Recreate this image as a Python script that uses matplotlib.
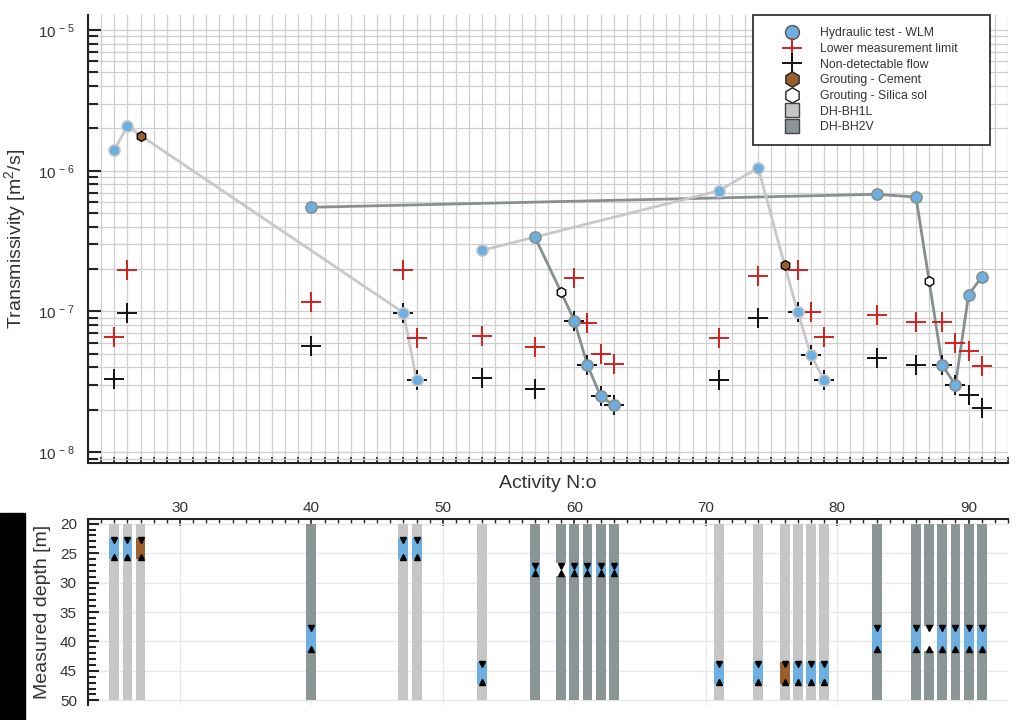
# -*- coding: utf-8 -*-
"""
Transmissivity per activity with the tested borehole sections below.
Writes out.png (1024x720).
"""

import math
import matplotlib
matplotlib.use("Agg")
import matplotlib.pyplot as plt
from matplotlib.lines import Line2D
from matplotlib.patches import Rectangle
from matplotlib.ticker import MultipleLocator, LogLocator, FixedLocator, NullFormatter, FuncFormatter

plt.rcParams["font.family"] = ["Liberation Sans", "DejaVu Sans"]
plt.rcParams["mathtext.fontset"] = "custom"
plt.rcParams["mathtext.rm"] = "Liberation Sans"
plt.rcParams["mathtext.it"] = "Liberation Sans"

# activities (x) and which borehole / what kind of activity
activity = [25, 26, 27, 40, 47, 48, 53, 57, 59, 60, 61, 62, 63,
            71, 74, 76, 77, 78, 79, 83, 86, 87, 88, 89, 90, 91]
borehole = ["BH1L", "BH1L", "BH1L", "BH2V", "BH1L", "BH1L", "BH1L",
            "BH2V", "BH2V", "BH2V", "BH2V", "BH2V", "BH2V",
            "BH1L", "BH1L", "BH1L", "BH1L", "BH1L", "BH1L",
            "BH2V", "BH2V", "BH2V", "BH2V", "BH2V", "BH2V", "BH2V"]
kind = ["test", "test", "cement", "test", "test", "test", "test",
        "test", "silica", "test", "test", "test", "test",
        "test", "test", "cement", "test", "test", "test",
        "test", "test", "silica", "test", "test", "test", "test"]

# section (measured depth, m)
sec_top = [22.4, 22.4, 22.4, 37.4, 22.4, 22.4, 43.5, 26.7, 26.7, 26.7, 26.7, 26.7, 26.7,
           43.5, 43.5, 43.5, 43.5, 43.5, 43.5, 37.4, 37.4, 37.4, 37.4, 37.4, 37.4, 37.4]
sec_bot = [26.0, 26.0, 26.0, 41.7, 26.0, 26.0, 47.3, 28.8, 28.8, 28.8, 28.8, 28.8, 28.8,
           47.3, 47.3, 47.3, 47.3, 47.3, 47.3, 41.7, 41.7, 41.7, 41.7, 41.7, 41.7, 41.7]

# transmissivity (m2/s); grouting markers sit on the line
trans = [1.40e-6, 2.08e-6, 1.78e-6, 5.5e-7, 9.8e-8, 3.25e-8, 2.72e-7,
         3.38e-7, 1.37e-7, 8.6e-8, 4.15e-8, 2.5e-8, 2.15e-8,
         7.2e-7, 1.05e-6, 2.14e-7, 9.9e-8, 4.9e-8, 3.25e-8,
         6.8e-7, 6.5e-7, 1.64e-7, 4.15e-8, 3.0e-8, 1.31e-7, 1.76e-7]
lower_limit = [6.6e-8, 1.97e-7, None, 1.17e-7, 1.97e-7, 6.45e-8, 6.7e-8,
               5.6e-8, None, 1.74e-7, 8.3e-8, 5.0e-8, 4.2e-8,
               6.45e-8, 1.79e-7, None, 1.97e-7, 9.9e-8, 6.55e-8,
               9.5e-8, 8.4e-8, None, 8.4e-8, 6.0e-8, 5.2e-8, 4.1e-8]
non_detect = [3.3e-8, 9.8e-8, None, 5.7e-8, 9.8e-8, 3.25e-8, 3.35e-8,
              2.8e-8, None, 8.6e-8, 4.15e-8, 2.5e-8, 2.15e-8,
              3.25e-8, 9.0e-8, None, 9.9e-8, 4.9e-8, 3.25e-8,
              4.7e-8, 4.15e-8, None, 4.15e-8, 3.0e-8, 2.55e-8, 2.05e-8]

BH_COLOR = {"BH1L": "#c6c6c6", "BH2V": "#8b9595"}
LINE_COLOR = {"BH1L": "#c8c8c8", "BH2V": "#86908f"}
KIND_COLOR = {"test": "#6cafe0", "cement": "#9b5f2b", "silica": "#ffffff"}
TEXT = "#333333"


def sections():
    # group activities that share borehole + section, in activity order
    groups = {}
    for i in range(len(activity)):
        key = (borehole[i], sec_top[i])
        groups.setdefault(key, []).append(i)
    return groups


def decade_label(v, pos):
    return r"$\mathregular{10^{\,-\,%d}}$" % round(-math.log10(v))


def plot_top(ax):
    for (bh, _), idx in sections().items():
        ax.plot([activity[i] for i in idx], [trans[i] for i in idx],
                color=LINE_COLOR[bh], lw=2, zorder=2)

    for i, x in enumerate(activity):
        if lower_limit[i] is not None:
            ax.plot(x, lower_limit[i], "+", color="#d42020", ms=14, mew=1.4, zorder=3)
        if non_detect[i] is not None:
            ax.plot(x, non_detect[i], "+", color="#111111", ms=14, mew=1.4, zorder=3)
        if kind[i] == "test":
            ax.plot(x, trans[i], "o", color=KIND_COLOR["test"], ms=8,
                    mec=LINE_COLOR[borehole[i]], mew=1.2, zorder=4)
        else:
            ax.plot(x, trans[i], "h", color=KIND_COLOR[kind[i]], ms=7,
                    mec="black", mew=1.0, zorder=5)

    ax.set_yscale("log")
    ax.set_xlim(23, 93)
    ax.set_ylim(10 ** -8.074, 10 ** -4.893)
    ax.xaxis.set_major_locator(MultipleLocator(1))
    ax.xaxis.set_major_formatter(NullFormatter())
    ax.yaxis.set_major_locator(LogLocator(base=10))
    ax.yaxis.set_minor_locator(LogLocator(base=10, subs=range(2, 10)))
    ax.yaxis.set_minor_formatter(NullFormatter())
    ax.yaxis.set_major_formatter(FuncFormatter(decade_label))
    ax.tick_params(axis="x", direction="in", length=4, width=1.2, color="#222222")
    ax.tick_params(axis="y", which="major", direction="in", length=9.5, width=1.5,
                   pad=9, labelsize=11, labelcolor=TEXT, color="#222222")
    ax.tick_params(axis="y", which="minor", direction="in", length=7, width=1.5,
                   color="#222222")
    ax.grid(True, which="both", axis="y", color="#cfcfcf", lw=0.9, zorder=0)
    ax.grid(True, which="major", axis="x", color="#cfcfcf", lw=0.9, zorder=0)
    ax.set_axisbelow(True)
    for s in ["top", "right"]:
        ax.spines[s].set_visible(False)
    for s in ["left", "bottom"]:
        ax.spines[s].set_linewidth(1.5)
        ax.spines[s].set_color("#222222")
    ax.set_ylabel("Transmissivity [m$^2$/s]", fontsize=14, color=TEXT)
    ax.yaxis.set_label_coords((28 - 88) / 920, 0.5)

    handles = [
        Line2D([], [], ls="none", marker="o", ms=10, color=KIND_COLOR["test"], mec="#555555"),
        Line2D([], [], ls="none", marker="+", ms=14, mew=1.4, color="#d42020"),
        Line2D([], [], ls="none", marker="+", ms=14, mew=1.4, color="#111111"),
        Line2D([], [], ls="none", marker="h", ms=11, color=KIND_COLOR["cement"], mec="#222222"),
        Line2D([], [], ls="none", marker="h", ms=11, color="white", mec="#222222"),
        Line2D([], [], ls="none", marker="s", ms=9.5, color=BH_COLOR["BH1L"], mec="#444444"),
        Line2D([], [], ls="none", marker="s", ms=9.5, color=BH_COLOR["BH2V"], mec="#444444"),
    ]
    labels = ["Hydraulic test - WLM", "Lower measurement limit", "Non-detectable flow",
              "Grouting - Cement", "Grouting - Silica sol", "DH-BH1L", "DH-BH2V"]
    fig = ax.figure
    leg = ax.legend(handles, labels, loc="upper left",
                    bbox_to_anchor=(753 / 1024, 1 - 145 / 720, 237 / 1024, 130 / 720),
                    bbox_transform=fig.transFigure, mode="expand", borderaxespad=0,
                    fontsize=8.8, frameon=True, fancybox=False, framealpha=1,
                    edgecolor="#222222", labelspacing=0.3, handlelength=4.4,
                    handletextpad=0.1, borderpad=1.0)
    leg.get_frame().set_linewidth(1.2)
    for t in leg.get_texts():
        t.set_color(TEXT)


def plot_bottom(ax):
    for i, x in enumerate(activity):
        ax.bar(x, 30, bottom=20, width=0.75, color=BH_COLOR[borehole[i]], zorder=2)
        ax.bar(x, sec_bot[i] - sec_top[i], bottom=sec_top[i], width=0.75,
               color=KIND_COLOR[kind[i]], zorder=3)
        ax.plot(x, sec_top[i] + 0.4, "v", color="black", ms=4, zorder=4)
        ax.plot(x, sec_bot[i] - 0.4, "^", color="black", ms=4, zorder=4)

    ax.set_xlim(23, 93)
    ax.set_ylim(50.8, 19.2)
    ax.xaxis.tick_top()
    ax.xaxis.set_major_locator(FixedLocator([30, 40, 50, 60, 70, 80, 90]))
    ax.xaxis.set_minor_locator(MultipleLocator(1))
    ax.yaxis.set_major_locator(MultipleLocator(5))
    ax.yaxis.set_minor_locator(MultipleLocator(1))
    ax.tick_params(axis="x", which="major", direction="in", length=5, width=1.2, pad=3,
                   labelsize=11, labelcolor=TEXT, color="#222222")
    ax.tick_params(axis="x", which="minor", direction="in", length=3, width=1.0, color="#222222")
    ax.tick_params(axis="y", which="major", direction="in", length=8, width=1.5, pad=8,
                   labelsize=11, labelcolor=TEXT, color="#222222")
    ax.tick_params(axis="y", which="minor", direction="in", length=6, width=1.5, color="#222222")
    ax.grid(True, which="major", color="#e8e8e8", lw=1.0, zorder=0)
    ax.set_axisbelow(True)
    for s in ["bottom", "right"]:
        ax.spines[s].set_visible(False)
    for s in ["left", "top"]:
        ax.spines[s].set_linewidth(1.5)
        ax.spines[s].set_color("#222222")
    ax.set_ylabel("Measured depth [m]", fontsize=14, color=TEXT)
    ax.yaxis.set_label_coords((51 - 88) / 920, 0.5)


def main():
    fig = plt.figure(figsize=(10.24, 7.2), dpi=100)
    left, width = 88 / 1024, 920 / 1024
    ax_top = fig.add_axes([left, 1 - 462.5 / 720, width, 447.5 / 720])
    ax_bot = fig.add_axes([left, 1 - 705 / 720, width, 186 / 720])

    plot_top(ax_top)
    plot_bottom(ax_bot)

    fig.text(548 / 1024, 1 - 483 / 720, "Activity N:o", ha="center", va="center",
             fontsize=14, color=TEXT)
    fig.patches.append(Rectangle((0, 0), 25 / 1024, 207 / 720, transform=fig.transFigure,
                                 color="black", zorder=0))
    fig.savefig("out.png", dpi=100)
    plt.close(fig)


if __name__ == "__main__":
    main()
